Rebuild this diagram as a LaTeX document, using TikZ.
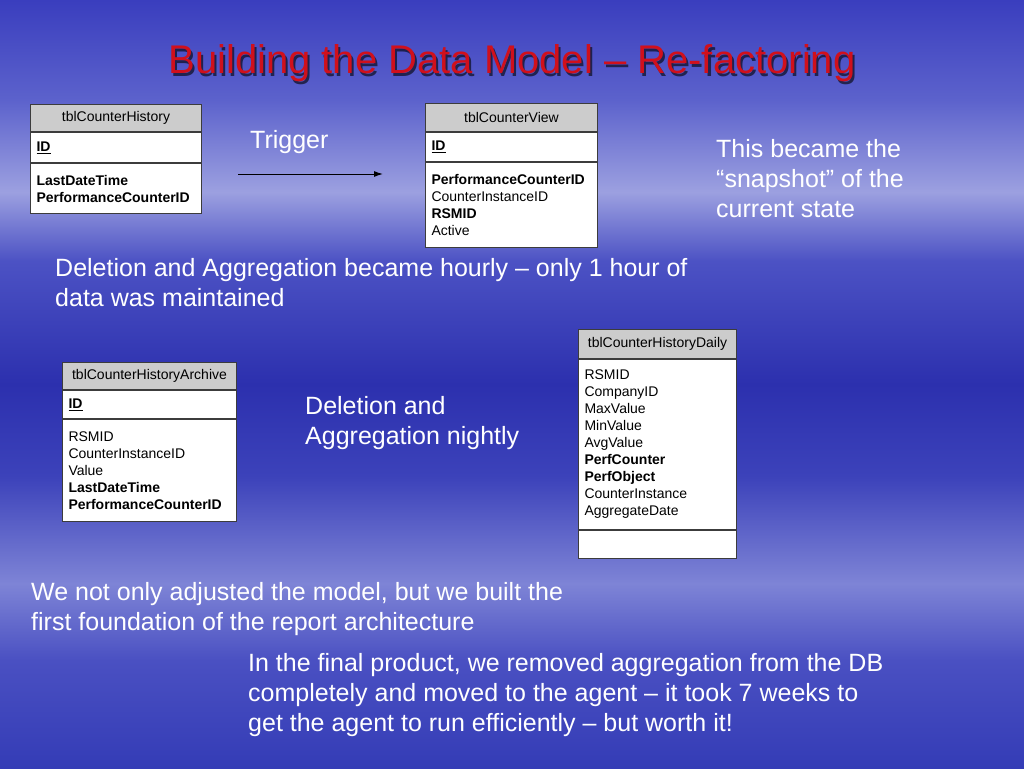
\documentclass[tikz,border=0pt]{standalone}
\usepackage{fontspec}
\setmainfont{Liberation Sans}
\usetikzlibrary{positioning,arrows.meta}

\definecolor{titlered}{HTML}{D0101C}
\definecolor{hdrgray}{HTML}{CCCCCC}
\definecolor{linegray}{HTML}{3C3C3C}
\definecolor{bgtop}{HTML}{3A3EBE}
\definecolor{bgupper}{HTML}{5C62CC}
\definecolor{bglight}{HTML}{9CA0E0}
\definecolor{bgmid}{HTML}{4C52C4}
\definecolor{bgdark}{HTML}{2C30AE}
\definecolor{bglow}{HTML}{3C42BA}
\definecolor{bgband}{HTML}{7E84D6}
\definecolor{bgfoot}{HTML}{4A50C2}
\definecolor{bgbottom}{HTML}{343CB6}

% slide background, bottom to top
\pgfdeclareverticalshading{slidebg}{100bp}{color(0bp)=(bgbottom); color(25bp)=(bgbottom);
  color(32bp)=(bgfoot); color(37bp)=(bgband); color(44bp)=(bglow); color(50bp)=(bgdark);
  color(58bp)=(bgmid); color(62.5bp)=(bglight); color(68.5bp)=(bgupper); color(75bp)=(bgtop);
  color(100bp)=(bgtop)}

\tikzset{
  tblhead/.style={draw=linegray, line width=1pt, fill=hdrgray, anchor=north west, inner sep=0pt,
    font=\fontsize{14}{17}\selectfont},
  tblpart/.style={draw=linegray, line width=1pt, fill=white, anchor=north west, inner xsep=6pt,
    inner ysep=0pt, align=left, font=\fontsize{14}{17}\selectfont},
  note/.style={text=white, align=left, anchor=base west, inner sep=0pt,
    font=\fontsize{25}{30}\selectfont},
}

\begin{document}
\begin{tikzpicture}[x=1pt, y=-1pt]
    % Background
    \useasboundingbox (0,0) rectangle (1024,768);
    \fill[shading=slidebg] (0,0) rectangle (1024,768);

    % Title
    \node[anchor=base, text=black, opacity=0.6, font=\fontsize{40}{48}\selectfont] (titleshadow) at (514,76)
        {Building the Data Model – Re-factoring};
    \node[anchor=base, text=titlered, font=\fontsize{40}{48}\selectfont] (title) at (512,74)
        {Building the Data Model – Re-factoring};

    % tblCounterHistory
    \node[tblhead, minimum width=171pt, minimum height=27pt] (hist) at (30,104) {tblCounterHistory};
    \node[tblpart, text width=159pt, minimum height=30pt] (histkey) at (hist.south west) {\underline{\textbf{ID}}};
    \node[tblpart, text width=159pt, minimum height=50pt] (histcols) at (histkey.south west)
        {\textbf{LastDateTime}\\\textbf{PerformanceCounterID}};

    % tblCounterView
    \node[tblhead, minimum width=172pt, minimum height=28pt] (view) at (425,103) {tblCounterView};
    \node[tblpart, text width=160pt, minimum height=29pt] (viewkey) at (view.south west) {\underline{\textbf{ID}}};
    \node[tblpart, text width=160pt, minimum height=85pt] (viewcols) at (viewkey.south west)
        {\textbf{PerformanceCounterID}\\CounterInstanceID\\\textbf{RSMID}\\Active};

    % Trigger arrow
    \coordinate (trigfrom) at (238,174);
    \coordinate (trigto) at (383,174);
    \draw[-{Latex[length=9pt,width=6pt]}, line width=1pt] (trigfrom) -- (trigto);
    \node[note] (trig) at (250,148) {Trigger};

    % tblCounterHistoryArchive
    \node[tblhead, minimum width=174pt, minimum height=27pt] (arch) at (62,362) {tblCounterHistoryArchive};
    \node[tblpart, text width=162pt, minimum height=28pt] (archkey) at (arch.south west) {\underline{\textbf{ID}}};
    \node[tblpart, text width=162pt, minimum height=102pt] (archcols) at (archkey.south west)
        {RSMID\\CounterInstanceID\\Value\\\textbf{LastDateTime}\\\textbf{PerformanceCounterID}};

    % tblCounterHistoryDaily
    \node[tblhead, minimum width=158pt, minimum height=29pt] (daily) at (578,329) {tblCounterHistoryDaily};
    \node[tblpart, text width=146pt, minimum height=170pt] (dailycols) at (daily.south west)
        {RSMID\\CompanyID\\MaxValue\\MinValue\\AvgValue\\\textbf{PerfCounter}\\\textbf{PerfObject}\\CounterInstance\\AggregateDate\\[6pt]};
    \node[tblpart, text width=146pt, minimum height=28pt] (dailyend) at (dailycols.south west) {};

    % Notes (anchored at the baseline of their last line)
    \node[note] (snap) at (716,217) {This became the\\“snapshot” of the\\current state};
    \node[note] (hourly) at (55,306) {Deletion and Aggregation became hourly – only 1 hour of\\data was maintained};
    \node[note] (nightly) at (305,444) {Deletion and\\Aggregation nightly};
    \node[note] (found) at (31,630) {We not only adjusted the model, but we built the\\first foundation of the report architecture};
    \node[note] (final) at (248,731) {In the final product, we removed aggregation from the DB\\completely and moved to the agent – it took 7 weeks to\\get the agent to run efficiently – but worth it!};
\end{tikzpicture}
\end{document}
